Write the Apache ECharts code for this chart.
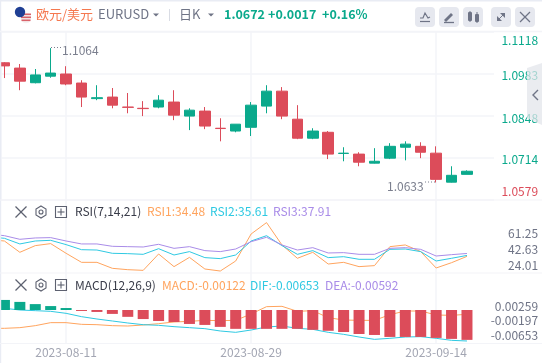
<!DOCTYPE html>
<html><head><meta charset="utf-8">
<style>html,body{margin:0;padding:0;background:#fff}#c{width:542px;height:363px}</style>
<script src="https://cdn.jsdelivr.net/npm/echarts@6/dist/echarts.min.js"></script>
</head><body><div id="c"></div>
<script>
const FONT='"Noto Sans CJK SC","Noto Sans",sans-serif';
const GREEN='#0aa98c',RED='#dc4c5a',ORANGE='#ffa45e',CYAN='#2fc9e2',PURPLE='#a98ce8',GRAY='#6f7486';
const categories=['2023-08-04','2023-08-07','2023-08-08','2023-08-09','2023-08-10','2023-08-11','2023-08-14','2023-08-15','2023-08-16','2023-08-17','2023-08-18','2023-08-21','2023-08-22','2023-08-23','2023-08-24','2023-08-25','2023-08-28','2023-08-29','2023-08-30','2023-08-31','2023-09-01','2023-09-04','2023-09-05','2023-09-06','2023-09-07','2023-09-08','2023-09-11','2023-09-12','2023-09-13','2023-09-14','2023-09-15','2023-09-18',''];
const dateLabels=['2023-08-11','2023-08-29','2023-09-14'];
// open, close, low, high (the first day lies left of the visible window)
const ohlc=[
['-','-','-','-'],
[1.1017,1.1007,1.0968,1.1019],[1.1000,1.0958,1.0929,1.1013],[1.0953,1.0978,1.0951,1.0997],[1.0974,1.0984,1.0969,1.1064],
[1.0981,1.0949,1.0945,1.1006],[1.0952,1.0907,1.0875,1.0961],[1.0902,1.0905,1.0897,1.0945],[1.0907,1.0881,1.0871,1.0936],
[1.0875,1.0874,1.0855,1.0920],[1.0871,1.0870,1.0846,1.0894],[1.0875,1.0897,1.0871,1.0913],[1.0891,1.0849,1.0833,1.0929],
[1.0846,1.0865,1.0801,1.0871],[1.0862,1.0814,1.0804,1.0875],[1.0807,1.0806,1.0765,1.0839],[1.0798,1.0820,1.0794,1.0820],
[1.0810,1.0881,1.0782,1.0891],[1.0878,1.0926,1.0855,1.0945],[1.0926,1.0846,1.0836,1.0939],[1.0836,1.0775,1.0772,1.0881],
[1.0775,1.0798,1.0772,1.0807],[1.0794,1.0724,1.0708,1.0798],[1.0726,1.0727,1.0701,1.0746],[1.0724,1.0698,1.0685,1.0730],
[1.0695,1.0701,1.0694,1.0743],[1.0711,1.0749,1.0708,1.0759],[1.0746,1.0756,1.0704,1.0765],[1.0749,1.0730,1.0711,1.0762],
[1.0727,1.0643,1.0633,1.0749],[1.0634,1.0656,1.0633,1.0685],[1.0659,1.0669,1.0659,1.0672]];
const priceTicks=[1.1118,1.0983,1.0848,1.0714,1.0579];
const rsi1=[54.3,52.7,39.3,47.2,49.6,38.1,27.4,27.4,20.3,18.7,17.9,37.3,22.3,33.3,19.5,17.1,29.0,61.0,74.5,48.0,32.2,39.3,25.4,27.4,22.3,23.5,46.0,48.0,40.1,20.7,27.0,34.48];
const rsi2=[57.5,55.9,49.2,52.7,53.5,48.4,42.4,42.0,38.1,37.7,36.9,43.6,36.1,40.1,33.0,31.8,36.1,52.7,59.0,47.2,36.9,41.3,33.0,34.1,31.0,31.0,42.8,43.2,40.1,29.0,32.2,35.61];
const rsi3=[61.0,59.0,54.7,56.3,56.7,52.7,49.2,49.2,46.4,46.0,45.6,48.8,44.0,46.0,41.3,40.1,43.2,51.9,57.1,48.0,42.0,44.8,38.5,38.9,36.9,36.9,44.0,44.8,42.8,34.9,36.5,37.91];
const rsiTicks=[61.25,42.63,24.01];
const macdTicks=[0.00259,-0.00197,-0.00653];
const dif=[0.00438,0.00396,0.00342,0.00321,0.00299,0.00235,0.00128,0.00053,-0.00011,-0.00075,-0.00129,-0.00150,-0.00193,-0.00225,-0.00257,-0.00332,-0.00375,-0.00300,-0.00204,-0.00172,-0.00246,-0.00279,-0.00375,-0.00439,-0.00525,-0.00600,-0.00567,-0.00525,-0.00514,-0.00567,-0.00632,-0.00653];
const signal=[-0.00246,-0.00246,-0.00225,-0.00161,-0.00064,-0.00064,-0.00118,-0.00129,-0.00161,-0.00172,-0.00139,-0.00097,-0.00043,-0.00022,0.00010,0.00000,0.00010,0.00214,0.00449,0.00460,0.00299,0.00321,0.00096,0.00021,0.00010,0.00010,0.00192,0.00310,0.00310,0.00182,0.00171,0.00203];
const hist=['-',0.00041,0.00033,0.00024,0.00016,0.00008,-0.00004,-0.00008,-0.00016,-0.00028,-0.00037,-0.00045,-0.00049,-0.00057,-0.00061,-0.00069,-0.00077,-0.00077,-0.00077,-0.00077,-0.00077,-0.00081,-0.00085,-0.00090,-0.00098,-0.00102,-0.00110,-0.00110,-0.00110,-0.00114,-0.00118,-0.00122];

const LINE='#f3f4f8';
const gridLeft=-18.7,gridW=508.8;
const P={top:31.3,h:168},R={top:200,h:73},M={top:273,h:70.3};
const showIdx=i=>dateLabels.includes(categories[i]);
function xAxis(g,labels){return{type:'category',gridIndex:g,data:categories,boundaryGap:true,
  axisLine:{show:false},axisTick:{show:false},
  axisLabel:labels?{show:true,interval:(i)=>showIdx(i),color:'#a3a6b3',fontSize:12,fontFamily:FONT,margin:3,hideOverlap:false}:{show:false},
  splitLine:{show:false}};}
function txt(x,y,text,fill,size,weight,align){return{type:'text',silent:true,x,y,z:20,style:{text,fill,font:(weight||'normal')+' '+(size||12)+'px '+FONT,textAlign:align||'left',textVerticalAlign:'middle'}};}
function rect(x,y,w,h,fill,r){return{type:'rect',silent:true,z:15,shape:{x,y,width:w,height:h,r:r||0},style:{fill}};}
function line(x1,y1,x2,y2,stroke,lw,dash){return{type:'line',silent:true,z:16,shape:{x1,y1,x2,y2},style:{stroke,lineWidth:lw||1,lineDash:dash||null}};}
function poly(points,fill,stroke,lw){return{type:'polygon',silent:true,z:16,shape:{points},style:{fill:fill||null,stroke:stroke||null,lineWidth:lw||1}};}
function polyl(points,stroke,lw){return{type:'polyline',silent:true,z:16,shape:{points},style:{fill:null,stroke,lineWidth:lw||1}};}
function xIcon(cx,cy,r,c){return[line(cx-r,cy-r,cx+r,cy+r,c,1.2),line(cx-r,cy+r,cx+r,cy-r,c,1.2)];}
function toolIcons(cy){
  const c='#5d6170';
  return [...xIcon(21,cy,5.5,c),
    poly([[41,cy-6],[46,cy-3],[46,cy+3],[41,cy+6],[36,cy+3],[36,cy-3]],null,c,1.1),
    {type:'circle',silent:true,z:16,shape:{cx:41,cy,r:2},style:{fill:null,stroke:c,lineWidth:1.1}},
    {type:'rect',silent:true,z:16,shape:{x:55.5,y:cy-5.5,width:11,height:11},style:{fill:null,stroke:c,lineWidth:1.1}},
    line(57.5,cy,64.5,cy,c,1.1),line(61,cy-3.5,61,cy+3.5,c,1.1)];
}
const graphics=[
  rect(0,0,542,1.5,'#e9ecf4'),rect(0,0,1.2,363,'#e9ecf4'),
  line(0,31.5,542,31.5,LINE,1.5),line(0,200,542,200,LINE,1.2),line(0,273,542,273,LINE,1.2),line(0,343.5,542,343.5,LINE,1.2),
  {type:'circle',silent:true,z:15,shape:{cx:26,cy:18,r:5.2},style:{fill:'#f4f1f1'}},
  rect(21,13.5,10,1.6,'#d9626a'),rect(21,16.5,10,1.6,'#d9626a'),rect(21.5,19.5,9,1.6,'#d9626a'),
  {type:'circle',silent:true,z:17,shape:{cx:20,cy:12,r:5.2},style:{fill:'#1f3f94'}},
  txt(36,14.5,'欧元/美元','#f5784f',13),
  txt(98,14.5,'EURUSD',GRAY,13),
  poly([[153,13.5],[159,13.5],[156,16.5]],GRAY),
  line(169.5,9,169.5,21,'#d9dce4',1),
  txt(179,14.5,'日K',GRAY,13),
  poly([[208,13.5],[214,13.5],[211,16.5]],GRAY),
  txt(224,14.5,'1.0672',GREEN,12.5,'bold'),
  txt(268,14.5,'+0.0017',GREEN,12.5,'bold'),
  txt(322,14.5,'+0.16%',GREEN,12.5,'bold'),
  rect(415,7,20,20,'#e6e8ef',4),rect(439,7,20,20,'#e6e8ef',4),rect(463,7,20,20,'#e6e8ef',4),rect(491,7,20,20,'#e6e8ef',4),rect(515,7,20,20,'#e6e8ef',4),
  polyl([[420,18],[423,18],[425,13],[428,18],[430,17]],GRAY,1.2),line(420,21.5,430,21.5,GRAY,1.2),
  poly([[444,20],[451,13],[453,15],[446,22]],GRAY),line(444,22.5,454,22.5,GRAY,1.3),
  rect(468,12,4,9,GRAY,1),rect(475,14,4,8,GRAY,1),line(470,11,470,22,GRAY,1),line(477,12,477,23,GRAY,1),
  poly([[500,13],[505,13],[505,18]],GRAY),poly([[497,16],[497,21],[502,21]],GRAY),line(498,20,504,14,GRAY,1),
  ...xIcon(525,17,5,GRAY),
  poly([[527,68],[542,63],[542,125],[527,118]],'rgba(226,228,234,0.72)'),
  polyl([[538,90],[533,95],[538,100]],GRAY,1.4),
  txt(62,50.5,'1.1064','#7b7f8e',12),
  line(51,47.5,61,47.5,'#7b7f8e',1,[1,2]),
  txt(387,186.5,'1.0633','#7b7f8e',12),
  line(425,182,436,182,'#7b7f8e',1,[1,2]),
  ...toolIcons(212),
  txt(75,211.5,'RSI(7,14,21)','#3a3d4a',12),
  txt(147,211.5,'RSI1:34.48',ORANGE,12),
  txt(210,211.5,'RSI2:35.61',CYAN,12),
  txt(273,211.5,'RSI3:37.91',PURPLE,12),
  ...toolIcons(285),
  txt(75,285,'MACD(12,26,9)','#3a3d4a',12),
  txt(162,285,'MACD:-0.00122',ORANGE,12),
  txt(250,285,'DIF:-0.00653',CYAN,12),
  txt(325,285,'DEA:-0.00592',PURPLE,12)
];
const bgAxisX=(g)=>({type:'category',gridIndex:g,data:categories,boundaryGap:true,axisLine:{show:false},axisTick:{show:false},axisLabel:{show:false},
  splitLine:{show:true,alignWithLabel:true,interval:(i)=>showIdx(i),lineStyle:{color:LINE,width:1.5}}});
const priceRich={g:{color:GREEN,fontSize:12,fontFamily:FONT,padding:[5,0,0,0]},t:{color:GREEN,fontSize:12,fontFamily:FONT,padding:[19,0,0,0]},b:{color:RED,fontSize:12,fontFamily:FONT,padding:[0,0,16,0]}};
const gridBase={outerBoundsMode:'none',containLabel:false};
const option={
  animation:false,backgroundColor:'#fff',textStyle:{fontFamily:FONT},
  grid:[
    {...gridBase,left:gridLeft,width:gridW,top:P.top,height:P.h},
    {...gridBase,left:gridLeft,width:gridW,top:R.top,height:R.h},
    {...gridBase,left:gridLeft,width:gridW,top:M.top,height:M.h},
    {...gridBase,left:gridLeft,width:gridW,top:P.top,height:M.top+M.h-P.top},
    {...gridBase,left:1,width:493,top:P.top,height:P.h}
  ],
  xAxis:[xAxis(0),xAxis(1),xAxis(2,true),bgAxisX(3),
    {type:'value',gridIndex:4,min:0,max:1,axisLine:{show:false},axisTick:{show:false},axisLabel:{show:false},splitLine:{show:false}},
    {type:'category',gridIndex:2,data:categories,show:false}],
  yAxis:[
    {type:'value',gridIndex:0,position:'right',min:1.0579,max:1.1118,axisLine:{show:false},axisTick:{show:false},splitLine:{show:false},
      axisLabel:{show:true,customValues:priceTicks,align:'right',margin:48,fontFamily:FONT,
        formatter:(v)=>{const s=v.toFixed(4);return s==='1.1118'?`{t|${s}}`:s==='1.0579'?`{b|${s}}`:`{g|${s}}`;},rich:priceRich}},
    {type:'value',gridIndex:1,position:'right',min:14.76,max:101.3,axisLine:{show:false},axisTick:{show:false},splitLine:{show:false},
      axisLabel:{show:true,customValues:rsiTicks,align:'right',margin:48,color:GRAY,fontSize:12,fontFamily:FONT,formatter:(v)=>v.toFixed(2)}},
    {type:'value',gridIndex:2,position:'right',min:-0.00727,max:0.0153,axisLine:{show:false},axisTick:{show:false},splitLine:{show:false},
      axisLabel:{show:true,customValues:macdTicks,align:'right',margin:48,fontFamily:FONT,
        formatter:(v)=>`{m|${v.toFixed(5)}}`,rich:{m:{color:GRAY,fontSize:12,fontFamily:FONT,padding:[0,0,12,0]}}}},
    {type:'value',gridIndex:2,position:'left',min:-0.00136,max:0.00151,show:false,splitLine:{show:false}},
    {type:'value',gridIndex:3,min:0,max:1,axisLine:{show:false},axisTick:{show:false},axisLabel:{show:false},splitLine:{show:false}},
    {type:'value',gridIndex:4,position:'right',min:0,max:4,interval:1,axisLine:{show:true,lineStyle:{color:LINE,width:1.5}},axisTick:{show:false},axisLabel:{show:false},splitLine:{show:true,lineStyle:{color:LINE,width:1.5}}}
  ],
  series:[
    {type:'candlestick',name:'EURUSD',xAxisIndex:0,yAxisIndex:0,data:ohlc,barWidth:11,z:5,
      itemStyle:{color:GREEN,color0:RED,borderColor:GREEN,borderColor0:RED,borderWidth:1}},
    {type:'line',name:'RSI1',xAxisIndex:1,yAxisIndex:1,data:rsi1,symbol:'none',lineStyle:{color:ORANGE,width:1}},
    {type:'line',name:'RSI2',xAxisIndex:1,yAxisIndex:1,data:rsi2,symbol:'none',lineStyle:{color:CYAN,width:1}},
    {type:'line',name:'RSI3',xAxisIndex:1,yAxisIndex:1,data:rsi3,symbol:'none',lineStyle:{color:PURPLE,width:1}},
    {type:'line',name:'signal',xAxisIndex:2,yAxisIndex:2,data:signal,symbol:'none',z:3,lineStyle:{color:ORANGE,width:1}},
    {type:'line',name:'DIF',xAxisIndex:2,yAxisIndex:2,data:dif,symbol:'none',z:3,lineStyle:{color:CYAN,width:1}},
    {type:'bar',name:'HIST',xAxisIndex:2,yAxisIndex:3,barWidth:11,z:6,
      data:hist.map(v=>({value:v,itemStyle:{color:v>=0?GREEN:RED}}))}
  ],
  graphic:graphics
};
const chart=echarts.init(document.getElementById('c'),null,{renderer:'canvas'});
chart.setOption(option);
</script></body></html>
